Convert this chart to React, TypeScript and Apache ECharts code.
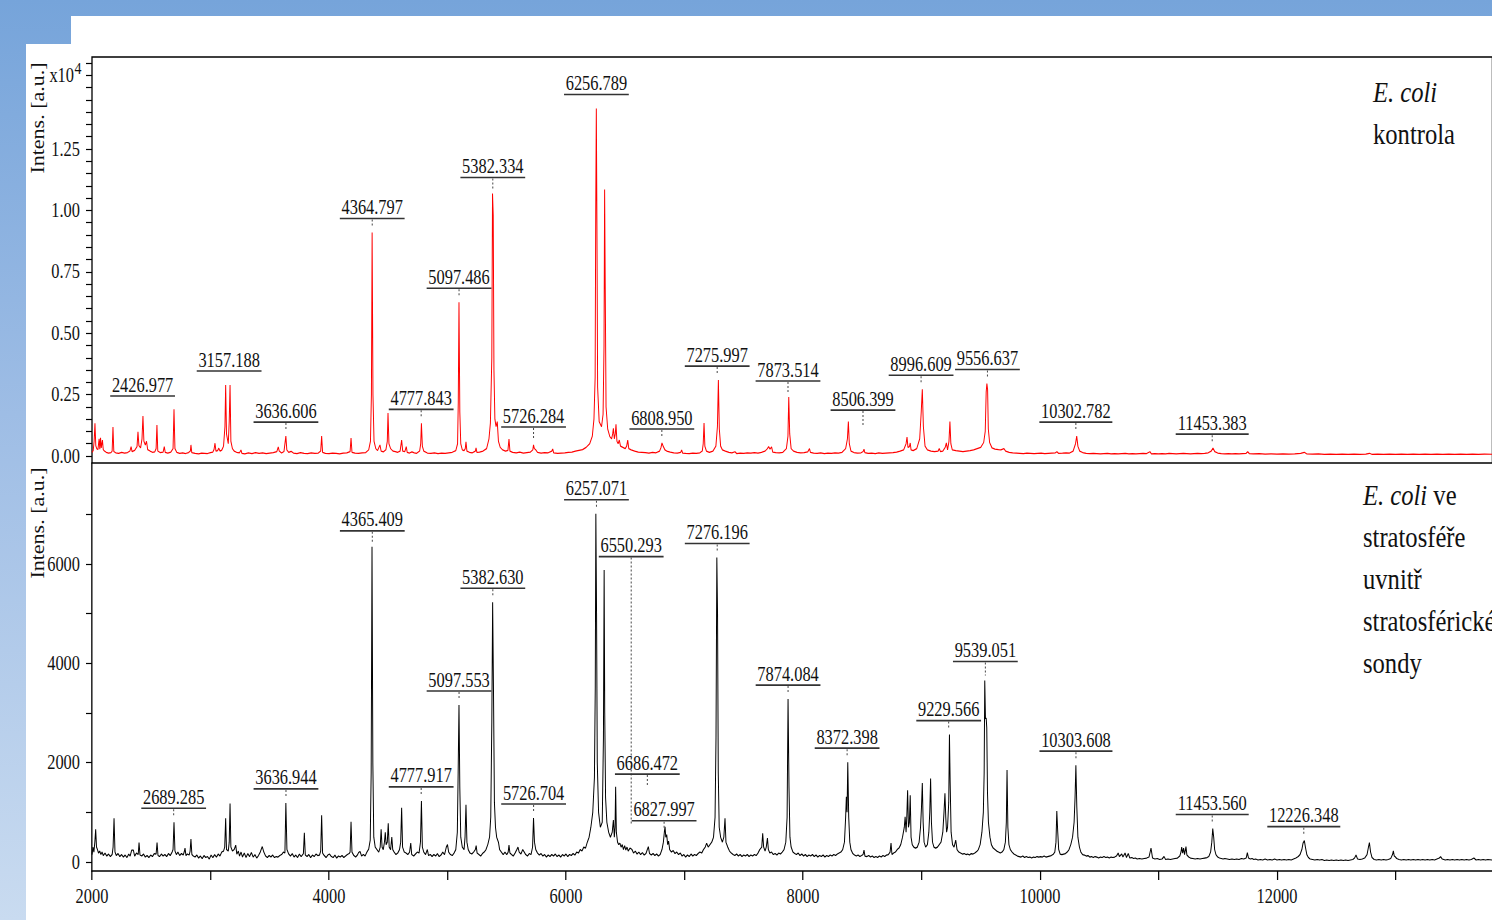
import React, { useEffect, useRef } from 'react';
import * as echarts from 'echarts';

// ---------------- DATA ----------------
const TOP_SPECTRUM: [number, number][] = [
[2000,150],[2010,220],[2018,600],[2025,1330],[2032,420],[2040,300],[2050,260],[2060,700],[2066,280],[2072,740],[2078,330],[2088,650],[2095,260],[2105,200],[2120,150],[2140,120],[2160,140],[2170,200],[2177,1180],[2184,180],[2200,130],[2225,110],[2250,150],[2275,120],[2300,140],[2320,200],[2330,380],[2338,180],[2360,230],[2380,380],[2388,990],[2396,420],[2410,330],[2422,700],[2430,1630],[2438,600],[2450,450],[2460,600],[2470,260],[2490,200],[2510,150],[2530,170],[2541,300],[2548,1260],[2555,200],[2575,140],[2600,160],[2610,380],[2618,150],[2640,120],[2665,160],[2684,300],[2692,1900],[2700,300],[2715,150],[2740,110],[2765,130],[2790,100],[2815,140],[2830,200],[2835,450],[2842,140],[2870,110],[2900,90],[2925,120],[2950,110],[2975,100],[3000,140],[3020,160],[3030,270],[3038,520],[3046,200],[3060,220],[3070,320],[3080,200],[3095,240],[3110,400],[3122,1200],[3128,2890],[3135,900],[3150,500],[3158,1400],[3165,2890],[3172,600],[3185,300],[3200,200],[3220,150],[3245,130],[3257,245],[3265,110],[3290,90],[3320,130],[3350,100],[3380,140],[3410,110],[3440,130],[3470,100],[3500,120],[3530,140],[3560,180],[3572,370],[3580,200],[3600,120],[3620,180],[3636,810],[3644,250],[3660,150],[3680,190],[3700,120],[3730,100],[3760,140],[3790,110],[3820,100],[3850,130],[3880,110],[3910,120],[3930,200],[3938,810],[3946,150],[3970,110],[4000,100],[4030,120],[4060,110],[4090,90],[4120,120],[4150,130],[4178,180],[4186,730],[4194,150],[4220,120],[4250,110],[4280,130],[4310,140],[4335,250],[4350,600],[4358,2500],[4364,9100],[4371,2500],[4380,600],[4395,300],[4410,220],[4430,450],[4440,200],[4460,170],[4480,250],[4492,600],[4498,1750],[4506,500],[4520,300],[4540,200],[4560,180],[4580,150],[4600,200],[4613,650],[4622,200],[4640,180],[4652,380],[4660,150],[4680,120],[4700,170],[4720,130],[4740,110],[4765,200],[4774,500],[4780,1330],[4788,400],[4800,200],[4830,120],[4860,110],[4890,130],[4920,100],[4950,120],[4980,110],[5010,130],[5040,150],[5070,220],[5085,500],[5091,2200],[5097,6260],[5104,1800],[5112,500],[5125,250],[5140,220],[5150,300],[5156,580],[5164,200],[5185,150],[5210,130],[5235,200],[5241,330],[5248,150],[5270,160],[5300,200],[5330,300],[5350,700],[5362,1340],[5374,4000],[5380,10690],[5386,9800],[5392,3500],[5400,1500],[5410,1200],[5420,1400],[5430,600],[5445,350],[5465,250],[5490,200],[5510,230],[5519,690],[5527,200],[5550,150],[5580,130],[5610,160],[5640,120],[5670,140],[5700,160],[5720,250],[5726,450],[5733,300],[5745,250],[5760,150],[5790,120],[5820,140],[5850,130],[5880,200],[5888,285],[5896,130],[5930,110],[5960,120],[5990,130],[6020,150],[6050,160],[6080,200],[6110,230],[6140,260],[6170,350],[6200,500],[6222,800],[6236,1500],[6246,3200],[6251,10000],[6256,14150],[6261,9500],[6267,2800],[6280,1400],[6300,1190],[6313,1700],[6321,4500],[6326,10850],[6331,7000],[6338,2000],[6352,1100],[6370,790],[6385,700],[6394,900],[6400,1130],[6408,700],[6416,900],[6422,1290],[6430,600],[6440,500],[6450,650],[6460,400],[6480,350],[6500,300],[6512,400],[6521,650],[6530,300],[6550,250],[6580,200],[6610,160],[6640,150],[6670,140],[6700,120],[6730,150],[6760,130],[6790,200],[6802,350],[6810,530],[6820,400],[6835,250],[6850,200],[6880,160],[6910,130],[6940,120],[6968,150],[6976,245],[6984,120],[7010,110],[7040,100],[7070,120],[7100,110],[7130,130],[7150,200],[7158,500],[7165,1340],[7172,400],[7185,200],[7210,150],[7240,200],[7265,400],[7278,1200],[7286,3090],[7294,1100],[7305,400],[7320,250],[7345,200],[7375,150],[7400,130],[7426,175],[7440,100],[7470,120],[7500,110],[7530,130],[7560,120],[7590,140],[7620,120],[7650,150],[7680,200],[7700,300],[7710,380],[7722,280],[7735,370],[7745,160],[7770,140],[7800,130],[7830,150],[7860,300],[7873,800],[7880,2400],[7888,900],[7900,300],[7920,200],[7950,150],[7980,130],[8010,140],[8040,170],[8055,300],[8063,150],[8090,120],[8120,110],[8150,130],[8180,100],[8210,120],[8240,110],[8270,130],[8300,120],[8330,150],[8360,300],[8375,700],[8383,1400],[8391,500],[8405,200],[8430,140],[8460,120],[8490,130],[8508,180],[8515,280],[8522,140],[8550,110],[8580,120],[8610,100],[8640,130],[8670,110],[8700,120],[8730,130],[8760,140],[8790,160],[8820,200],[8850,250],[8870,500],[8878,770],[8886,350],[8898,380],[8905,530],[8912,250],[8930,220],[8960,300],[8985,700],[8998,1800],[9007,2720],[9016,1200],[9030,400],[9050,250],[9080,200],[9110,180],[9140,200],[9150,300],[9160,180],[9180,200],[9200,350],[9210,530],[9220,250],[9232,600],[9240,1400],[9248,500],[9260,250],[9290,220],[9320,200],[9350,180],[9380,200],[9410,220],[9440,250],[9470,300],[9500,350],[9525,550],[9538,1000],[9546,2600],[9552,2950],[9558,2700],[9564,1100],[9575,550],[9595,330],[9620,280],[9650,260],[9670,250],[9696,300],[9710,200],[9740,150],[9770,130],[9800,120],[9830,110],[9860,100],[9890,120],[9920,110],[9950,100],[9980,110],[10010,120],[10040,100],[10070,110],[10100,120],[10130,130],[10143,175],[10156,110],[10190,120],[10220,130],[10250,120],[10280,200],[10300,500],[10310,810],[10320,400],[10335,200],[10360,140],[10390,110],[10420,100],[10450,110],[10480,100],[10510,90],[10540,100],[10570,110],[10600,90],[10630,100],[10660,90],[10690,100],[10720,110],[10750,90],[10780,100],[10810,90],[10840,100],[10870,110],[10900,100],[10928,175],[10940,90],[10970,100],[11000,90],[11030,100],[11060,90],[11090,110],[11120,100],[11150,90],[11180,100],[11210,110],[11240,100],[11270,90],[11300,100],[11330,110],[11360,100],[11390,110],[11420,130],[11445,200],[11460,320],[11475,180],[11500,120],[11530,100],[11560,90],[11590,100],[11620,90],[11650,100],[11680,90],[11710,100],[11740,110],[11753,175],[11766,100],[11800,90],[11850,100],[11900,80],[11950,90],[12000,80],[12050,90],[12100,80],[12150,90],[12200,110],[12230,150],[12250,90],[12300,80],[12350,90],[12400,70],[12450,80],[12500,70],[12550,80],[12600,70],[12650,80],[12700,70],[12750,80],[12780,110],[12800,70],[12850,80],[12900,70],[12950,80],[13000,70],[13050,80],[13100,70],[13150,80],[13200,70],[13250,80],[13300,70],[13350,80],[13400,70],[13450,80],[13500,70],[13550,80],[13600,70],[13650,80],[13700,70],[13750,80],[13818,70]
];

const BOTTOM_SPECTRUM: [number, number][] = [
[2000,150],[2008,300],[2016,200],[2024,400],[2031,660],[2038,300],[2046,250],[2055,180],[2065,220],[2075,150],[2085,200],[2095,130],[2110,180],[2125,120],[2140,160],[2155,110],[2170,150],[2178,300],[2186,880],[2194,200],[2205,130],[2220,170],[2235,110],[2250,150],[2265,100],[2280,140],[2295,90],[2310,160],[2322,120],[2335,240],[2349,240],[2360,120],[2375,180],[2390,150],[2397,390],[2405,140],[2420,120],[2435,160],[2450,100],[2465,130],[2480,90],[2495,140],[2510,110],[2525,170],[2541,160],[2549,390],[2557,130],[2570,110],[2585,160],[2600,120],[2615,150],[2630,110],[2645,170],[2660,130],[2676,200],[2684,250],[2692,800],[2700,220],[2712,150],[2725,200],[2740,130],[2755,170],[2770,140],[2778,200],[2785,280],[2793,130],[2805,160],[2820,140],[2828,220],[2835,460],[2843,150],[2855,120],[2870,100],[2885,140],[2900,80],[2915,120],[2930,70],[2945,130],[2960,90],[2975,110],[2990,60],[3005,140],[3020,90],[3035,150],[3050,100],[3065,160],[3080,120],[3095,200],[3110,220],[3120,300],[3128,880],[3135,250],[3150,220],[3158,400],[3165,1180],[3172,300],[3185,220],[3200,250],[3213,340],[3222,160],[3235,220],[3245,120],[3258,200],[3270,100],[3285,180],[3300,90],[3315,170],[3330,110],[3345,190],[3360,100],[3375,150],[3390,80],[3405,130],[3420,200],[3437,310],[3450,200],[3465,120],[3480,90],[3495,130],[3510,100],[3525,140],[3540,90],[3555,110],[3570,100],[3585,130],[3600,150],[3615,200],[3628,180],[3636,1190],[3645,250],[3660,160],[3675,120],[3690,170],[3705,100],[3720,140],[3735,90],[3750,160],[3765,110],[3784,170],[3792,590],[3800,140],[3815,110],[3830,150],[3845,90],[3860,140],[3875,110],[3890,160],[3905,130],[3920,140],[3930,220],[3938,940],[3946,180],[3960,130],[3975,90],[3990,140],[4005,160],[4020,110],[4035,90],[4050,140],[4065,80],[4080,120],[4095,100],[4110,130],[4125,90],[4140,120],[4155,150],[4170,170],[4178,200],[4186,810],[4194,200],[4210,130],[4225,100],[4240,140],[4250,190],[4262,210],[4275,120],[4290,150],[4305,120],[4320,200],[4335,260],[4348,440],[4356,1800],[4363,6345],[4370,2000],[4378,500],[4390,300],[4405,250],[4420,200],[4432,300],[4440,660],[4448,300],[4458,250],[4468,400],[4475,600],[4482,350],[4492,400],[4500,780],[4508,300],[4520,250],[4530,500],[4538,250],[4550,200],[4565,150],[4580,180],[4595,250],[4605,400],[4613,1090],[4621,300],[4635,200],[4650,180],[4665,150],[4680,200],[4690,380],[4698,150],[4715,120],[4730,160],[4745,200],[4760,180],[4772,400],[4780,1230],[4788,300],[4800,200],[4815,150],[4830,250],[4840,130],[4855,150],[4870,110],[4885,150],[4900,120],[4915,170],[4930,110],[4945,140],[4960,200],[4975,150],[4990,300],[5000,350],[5010,200],[5025,150],[5040,130],[5055,180],[5070,250],[5083,600],[5090,1800],[5097,3160],[5104,1500],[5112,500],[5125,300],[5140,250],[5148,500],[5156,1150],[5164,400],[5175,250],[5190,180],[5205,160],[5220,200],[5235,250],[5242,330],[5250,180],[5265,150],[5280,120],[5295,170],[5310,200],[5325,250],[5340,350],[5355,500],[5365,900],[5374,2800],[5381,5230],[5388,3500],[5396,1200],[5405,700],[5415,500],[5430,400],[5440,250],[5455,200],[5470,150],[5485,200],[5500,150],[5512,200],[5519,340],[5527,180],[5540,150],[5555,120],[5570,180],[5585,250],[5595,300],[5605,200],[5620,160],[5635,250],[5648,200],[5660,150],[5675,120],[5690,170],[5705,150],[5718,300],[5726,885],[5734,400],[5745,250],[5760,180],[5775,140],[5790,170],[5805,120],[5820,150],[5835,100],[5850,140],[5865,110],[5880,150],[5895,120],[5910,160],[5925,110],[5940,140],[5955,100],[5970,150],[5985,120],[6000,160],[6015,110],[6030,150],[6045,130],[6060,170],[6075,140],[6090,200],[6105,180],[6120,250],[6135,220],[6150,300],[6165,280],[6180,400],[6195,500],[6210,700],[6226,1000],[6240,1700],[6247,3500],[6252,7010],[6258,5000],[6264,2000],[6275,1000],[6290,700],[6306,800],[6316,2500],[6322,5880],[6327,3000],[6334,1300],[6345,800],[6360,600],[6375,500],[6390,600],[6400,845],[6408,500],[6414,700],[6419,1515],[6425,600],[6435,400],[6445,350],[6455,380],[6465,300],[6475,350],[6485,250],[6495,330],[6505,240],[6515,300],[6525,220],[6540,280],[6557,250],[6570,180],[6585,220],[6600,160],[6615,200],[6630,150],[6645,190],[6660,140],[6675,170],[6685,240],[6695,310],[6705,170],[6720,140],[6735,170],[6750,130],[6765,160],[6780,120],[6795,150],[6810,250],[6822,400],[6830,600],[6836,710],[6842,500],[6850,550],[6858,350],[6866,420],[6875,250],[6890,200],[6905,230],[6920,170],[6935,200],[6950,150],[6965,180],[6980,120],[6995,150],[7010,100],[7025,140],[7040,110],[7055,160],[7070,120],[7085,150],[7100,130],[7115,170],[7130,200],[7145,180],[7160,250],[7175,300],[7187,380],[7200,300],[7215,350],[7230,400],[7245,500],[7258,900],[7266,2500],[7273,6130],[7279,5000],[7285,1800],[7293,700],[7305,500],[7320,400],[7332,500],[7342,880],[7350,400],[7365,300],[7380,220],[7395,180],[7410,150],[7425,130],[7440,160],[7455,120],[7470,150],[7485,110],[7500,140],[7515,120],[7530,150],[7545,110],[7560,140],[7575,120],[7590,150],[7605,130],[7620,180],[7635,250],[7652,300],[7660,580],[7668,300],[7680,220],[7690,300],[7700,480],[7708,250],[7720,180],[7735,200],[7750,150],[7765,170],[7780,140],[7795,180],[7810,160],[7825,200],[7840,250],[7855,400],[7866,900],[7874,3280],[7882,1500],[7890,500],[7900,300],[7915,200],[7930,170],[7945,150],[7960,180],[7975,130],[7990,160],[8005,120],[8020,150],[8035,110],[8050,140],[8065,120],[8080,150],[8095,110],[8110,140],[8125,100],[8140,130],[8155,110],[8170,140],[8185,100],[8200,130],[8215,110],[8230,140],[8245,120],[8260,150],[8275,130],[8290,160],[8305,180],[8320,200],[8335,250],[8350,400],[8360,900],[8366,1315],[8372,1000],[8378,2010],[8386,900],[8395,400],[8405,250],[8420,170],[8435,140],[8450,120],[8465,140],[8480,110],[8495,130],[8507,150],[8515,240],[8523,120],[8540,110],[8555,130],[8570,100],[8585,120],[8600,90],[8615,110],[8630,90],[8645,120],[8660,100],[8675,130],[8690,110],[8705,140],[8720,150],[8735,200],[8743,380],[8751,150],[8765,180],[8780,200],[8795,250],[8810,280],[8825,350],[8840,500],[8855,700],[8862,910],[8870,600],[8876,900],[8883,1445],[8890,700],[8898,800],[8905,1345],[8912,500],[8922,350],[8935,300],[8950,280],[8965,300],[8980,400],[8992,700],[9000,1100],[9007,1590],[9014,800],[9022,400],[9035,300],[9050,350],[9062,600],[9070,1000],[9077,1680],[9084,800],[9093,400],[9105,300],[9120,280],[9135,300],[9150,350],[9165,400],[9180,600],[9190,1000],[9198,1385],[9205,900],[9212,600],[9220,700],[9230,1200],[9236,2565],[9242,1600],[9250,600],[9262,350],[9275,300],[9289,440],[9300,250],[9315,200],[9330,180],[9345,160],[9360,170],[9375,150],[9390,160],[9405,140],[9420,170],[9435,160],[9450,180],[9466,210],[9480,250],[9495,350],[9510,600],[9522,1000],[9529,1800],[9534,3655],[9540,2885],[9546,2900],[9551,2700],[9557,1400],[9565,800],[9578,500],[9590,350],[9605,280],[9620,250],[9635,220],[9650,200],[9665,180],[9680,200],[9695,250],[9708,400],[9716,800],[9722,1850],[9729,700],[9738,350],[9750,250],[9765,200],[9780,160],[9795,140],[9810,120],[9825,110],[9840,100],[9855,120],[9870,90],[9885,110],[9900,90],[9915,100],[9930,80],[9945,100],[9960,90],[9975,110],[9990,100],[10005,110],[10020,100],[10035,120],[10050,100],[10065,110],[10080,120],[10095,130],[10110,150],[10125,200],[10135,400],[10142,1025],[10150,600],[10158,250],[10170,160],[10185,150],[10200,160],[10215,170],[10230,200],[10245,250],[10260,350],[10275,500],[10288,800],[10296,1300],[10303,1950],[10311,1100],[10320,500],[10333,300],[10345,200],[10360,150],[10375,140],[10390,120],[10405,130],[10420,100],[10435,110],[10450,90],[10465,110],[10480,100],[10495,80],[10510,100],[10525,90],[10540,110],[10555,90],[10570,100],[10585,80],[10600,100],[10615,90],[10630,100],[10645,120],[10660,180],[10670,110],[10690,160],[10700,100],[10718,180],[10730,90],[10745,170],[10758,80],[10775,90],[10790,70],[10805,80],[10820,60],[10840,70],[10860,60],[10880,70],[10900,80],[10920,100],[10937,280],[10950,80],[10970,60],[10990,70],[11010,50],[11030,60],[11047,110],[11060,50],[11080,60],[11100,50],[11120,60],[11140,70],[11160,80],[11180,120],[11190,200],[11196,300],[11204,180],[11212,280],[11220,150],[11232,310],[11240,140],[11255,100],[11270,80],[11290,70],[11310,60],[11330,70],[11350,60],[11370,70],[11390,80],[11410,90],[11425,110],[11440,200],[11450,400],[11458,675],[11466,500],[11474,250],[11485,150],[11500,100],[11515,80],[11530,70],[11545,60],[11560,70],[11580,60],[11600,50],[11620,60],[11640,50],[11660,60],[11680,50],[11700,70],[11720,60],[11740,80],[11750,187],[11760,80],[11775,60],[11790,70],[11805,50],[11820,60],[11840,40],[11860,50],[11880,40],[11900,60],[11920,40],[11940,50],[11960,40],[11980,60],[12000,40],[12020,50],[12040,40],[12060,50],[12080,40],[12100,50],[12120,40],[12140,60],[12160,80],[12180,110],[12195,150],[12210,250],[12220,380],[12231,430],[12240,300],[12252,150],[12265,90],[12280,60],[12300,50],[12320,40],[12340,50],[12360,40],[12380,50],[12400,30],[12420,40],[12440,30],[12460,40],[12480,30],[12500,40],[12520,30],[12540,40],[12560,30],[12580,40],[12600,30],[12620,40],[12640,50],[12655,80],[12667,140],[12680,60],[12700,50],[12720,60],[12740,80],[12760,150],[12772,300],[12780,390],[12790,200],[12802,90],[12820,50],[12840,40],[12860,50],[12880,40],[12900,50],[12920,40],[12940,50],[12960,70],[12975,150],[12982,225],[12990,120],[13000,100],[13010,70],[13030,50],[13050,40],[13070,50],[13090,40],[13110,50],[13130,40],[13150,50],[13170,40],[13190,50],[13210,40],[13230,50],[13250,40],[13270,50],[13290,40],[13310,50],[13330,40],[13350,60],[13370,80],[13381,107],[13395,60],[13420,40],[13440,50],[13460,40],[13480,50],[13500,40],[13520,50],[13540,40],[13560,50],[13580,40],[13600,50],[13620,40],[13640,50],[13662,80],[13680,40],[13700,50],[13720,40],[13740,50],[13760,40],[13780,50],[13818,40]
];

// labelled peaks: [m/z, apex intensity]
const TOP_PEAKS: [number, number][] = [
  [2426.977, 1630], [3157.188, 2890], [3636.606, 810], [4364.797, 9100], [4777.843, 1330],
  [5097.486, 6260], [5382.334, 10690], [5726.284, 450], [6256.789, 14150], [6808.950, 530],
  [7275.997, 3090], [7873.514, 2400], [8506.399, 280], [8996.609, 2720], [9556.637, 2950],
  [10302.782, 810], [11453.383, 320],
];
const BOTTOM_PEAKS: [number, number][] = [
  [2689.285, 800], [3636.944, 1190], [4365.409, 6345], [4777.917, 1230], [5097.553, 3160],
  [5382.630, 5230], [5726.704, 885], [6257.071, 7010], [6550.293, 250], [6686.472, 240],
  [6827.997, 710], [7276.196, 6130], [7874.084, 3280], [8372.398, 2010], [9229.566, 2565],
  [9539.051, 3655], [10303.608, 1950], [11453.560, 675], [12226.348, 430],
];

const X_TICKS = [2000, 3000, 4000, 5000, 6000, 7000, 8000, 9000, 10000, 11000, 12000, 13000];
const X_LABELS = [2000, 4000, 6000, 8000, 10000, 12000];
const TOP_Y_TICKS = [0, 500, 1000, 1500, 2000, 2500, 3000, 3500, 4000, 4500, 5000, 5500, 6000, 6500, 7000, 7500, 8000, 8500, 9000, 9500, 10000, 10500, 11000, 11500, 12000, 12500, 13000, 13500, 14000, 14500, 15000, 15500, 16000];
const TOP_Y_LABELS = [0, 2500, 5000, 7500, 10000, 12500];
const BOTTOM_Y_TICKS = [0, 1000, 2000, 3000, 4000, 5000, 6000, 7000];
const BOTTOM_Y_LABELS = [0, 2000, 4000, 6000];

const TOP_TITLE = ['E. coli', 'kontrola'];
const BOTTOM_TITLE = ['E. coli', ' ve', 'stratosféře', 'uvnitř', 'stratosférické', 'sondy'];
const Y_NAME = 'Intens. [a.u.]';

// ---------------- LAYOUT / STYLE ----------------
const S = 0.82; // horizontal condensation of the whole picture
const W = 1820;
const H = 920;
const sx = (x: number) => x / S;
const FONT = '"Liberation Serif", "Times New Roman", serif';
const X_MAX = 13818;

// label placement (px above apex) and dotted-line lengths
const TOP_GAPS: Record<string, number> = { '2426.977': 20, '5382.334': 16, '5726.284': 18, '7873.514': 16, '8506.399': 39 };
const TOP_DOTS: Record<string, number> = { '8506.399': 16, '2426.977': 0, '3157.188': 0, '6256.789': 0 };
const BOTTOM_GAPS: Record<string, number> = { '4365.409': 16, '6550.293': 293, '6686.472': 76, '6827.997': 6, '9539.051': 19 };
const BOTTOM_DOTS: Record<string, number> = { '6550.293': 266, '6686.472': 11, '6827.997': 6 };

function makeRenderer(gaps: Record<string, number>, dots: Record<string, number>) {
  return (params: any, api: any) => {
    const mz = api.value(0);
    const h = api.value(1);
    const pt = api.coord([mz, h]);
    const key = Number(mz).toFixed(3);
    const gap = gaps[key] ?? 14;
    const dot = dots[key] ?? Math.max(gap - 6, 0);
    const yLine = pt[1] - gap;
    const digits = key.replace('.', '').length;
    const w = (digits * 0.5 + 0.25) * 20;
    const children: any[] = [
      {
        type: 'text', x: pt[0], y: yLine - 1,
        style: { text: key, font: `20px ${FONT}`, fill: '#111', align: 'center', verticalAlign: 'bottom', textAlign: 'center', textVerticalAlign: 'bottom' },
      },
      {
        type: 'line', shape: { x1: pt[0] - w / 2 - 2, y1: yLine, x2: pt[0] + w / 2 + 2, y2: yLine },
        style: { stroke: '#333', lineWidth: 1.6 },
      },
    ];
    if (dot > 0) {
      children.push({
        type: 'line', shape: { x1: pt[0], y1: yLine + 1, x2: pt[0], y2: yLine + 1 + dot },
        style: { stroke: '#444', lineWidth: 1.2, lineDash: [2, 2] },
      });
    }
    return { type: 'group', children };
  };
}

export default function App() {
  const ref = useRef<HTMLDivElement>(null);
  useEffect(() => {
    if (!ref.current) return;
    const chart = echarts.init(ref.current, undefined, { renderer: 'svg' });
    const labelStyle = { fontFamily: FONT, fontSize: 20, color: '#111' };
    const titleFont = `30px ${FONT}`;
    const titleItalic = `italic 30px ${FONT}`;
    const option: any = {
      animation: false,
      backgroundColor: 'transparent',
      graphic: [
        {
          type: 'rect', z: -100, silent: true,
          shape: { x: 0, y: 0, width: W + 20, height: H },
          style: {
            fill: new echarts.graphic.LinearGradient(0, 0, 0, 1, [
              { offset: 0, color: '#76A4DA' },
              { offset: 0.45, color: '#9EBDE5' },
              { offset: 1, color: '#C9DBF0' },
            ]),
          },
        },
        {
          type: 'polygon', z: -99, silent: true,
          shape: { points: [[sx(71), 16], [W + 20, 16], [W + 20, H + 10], [sx(26), H + 10], [sx(26), 44], [sx(71), 44]] },
          style: { fill: '#ffffff' },
        },
        {
          type: 'text', x: sx(74), y: 75, silent: true,
          style: { text: 'x10', font: `20px ${FONT}`, fill: '#111', align: 'right', verticalAlign: 'middle', textAlign: 'right', textVerticalAlign: 'middle' },
        },
        {
          type: 'text', x: sx(74.5), y: 68, silent: true,
          style: { text: '4', font: `17px ${FONT}`, fill: '#111', align: 'left', verticalAlign: 'middle', textAlign: 'left', textVerticalAlign: 'middle' },
        },
        {
          type: 'text', x: sx(38), y: 118, rotation: Math.PI / 2, silent: true,
          style: { text: Y_NAME, font: `22px ${FONT}`, fill: '#111', align: 'center', verticalAlign: 'middle', textAlign: 'center', textVerticalAlign: 'middle' },
        },
        {
          type: 'text', x: sx(38), y: 523, rotation: Math.PI / 2, silent: true,
          style: { text: Y_NAME, font: `22px ${FONT}`, fill: '#111', align: 'center', verticalAlign: 'middle', textAlign: 'center', textVerticalAlign: 'middle' },
        },
        {
          type: 'text', x: sx(1373), y: 92, silent: true,
          style: { text: TOP_TITLE[0], font: titleItalic, fill: '#111', align: 'left', verticalAlign: 'middle', textAlign: 'left', textVerticalAlign: 'middle' },
        },
        {
          type: 'text', x: sx(1373), y: 134, silent: true,
          style: { text: TOP_TITLE[1], font: titleFont, fill: '#111', align: 'left', verticalAlign: 'middle', textAlign: 'left', textVerticalAlign: 'middle' },
        },
        {
          type: 'text', x: sx(1363), y: 495, silent: true,
          style: {
            text: `{i|${BOTTOM_TITLE[0]}}${BOTTOM_TITLE[1]}`, font: titleFont, fill: '#111',
            align: 'left', verticalAlign: 'middle', textAlign: 'left', textVerticalAlign: 'middle',
            rich: { i: { fontStyle: 'italic', fontSize: 30, fontFamily: FONT, fill: '#111', color: '#111' } },
          },
        },
        ...BOTTOM_TITLE.slice(2).map((t, i) => ({
          type: 'text', x: sx(1363), y: 537 + i * 42, silent: true,
          style: { text: t, font: titleFont, fill: '#111', align: 'left', verticalAlign: 'middle', textAlign: 'left', textVerticalAlign: 'middle' },
        })),
      ],
      grid: [
        { left: sx(92), right: 0, top: 57, height: 406, show: true, borderColor: '#000', borderWidth: 1.6, backgroundColor: 'transparent' },
        { left: sx(92), right: 0, top: 463, height: 408, show: false },
      ],
      xAxis: [
        {
          gridIndex: 0, type: 'value', min: 2000, max: X_MAX,
          axisLine: { show: false, onZero: false }, axisTick: { show: false }, axisLabel: { show: false }, splitLine: { show: false },
        },
        {
          gridIndex: 1, type: 'value', min: 2000, max: X_MAX,
          axisLine: { show: true, onZero: false, lineStyle: { color: '#000', width: 1.6 } },
          axisTick: { show: true, length: 9, customValues: X_TICKS, lineStyle: { color: '#000', width: 1.5 } },
          axisLabel: { ...labelStyle, margin: 15, customValues: X_LABELS, formatter: (v: number) => String(v) },
          splitLine: { show: false },
        },
      ],
      yAxis: [
        {
          gridIndex: 0, type: 'value', min: -285, max: 16246,
          axisLine: { show: false, onZero: false },
          axisTick: { show: true, length: sx(6), customValues: TOP_Y_TICKS, lineStyle: { color: '#000', width: 1.2 } },
          axisLabel: { ...labelStyle, margin: sx(12), customValues: TOP_Y_LABELS, formatter: (v: number) => (v / 10000).toFixed(2) },
          splitLine: { show: false },
        },
        {
          gridIndex: 1, type: 'value', min: -181, max: 8033,
          axisLine: { show: true, onZero: false, lineStyle: { color: '#000', width: 1.6 } },
          axisTick: { show: true, length: sx(6), customValues: BOTTOM_Y_TICKS, lineStyle: { color: '#000', width: 1.2 } },
          axisLabel: { ...labelStyle, margin: sx(12), customValues: BOTTOM_Y_LABELS, formatter: (v: number) => String(v) },
          splitLine: { show: false },
        },
      ],
      series: [
        {
          type: 'line', xAxisIndex: 0, yAxisIndex: 0, data: TOP_SPECTRUM, symbol: 'none', showSymbol: false,
          lineStyle: { color: '#ff0000', width: 1.2 }, itemStyle: { color: '#ff0000' }, silent: true, z: 3,
        },
        {
          type: 'line', xAxisIndex: 1, yAxisIndex: 1, data: BOTTOM_SPECTRUM, symbol: 'none', showSymbol: false,
          lineStyle: { color: '#000000', width: 1.2 }, itemStyle: { color: '#000' }, silent: true, z: 3,
        },
        {
          type: 'custom', xAxisIndex: 0, yAxisIndex: 0, data: TOP_PEAKS, silent: true, z: 5,
          encode: { x: 0, y: 1 }, renderItem: makeRenderer(TOP_GAPS, TOP_DOTS),
        },
        {
          type: 'custom', xAxisIndex: 1, yAxisIndex: 1, data: BOTTOM_PEAKS, silent: true, z: 5,
          encode: { x: 0, y: 1 }, renderItem: makeRenderer(BOTTOM_GAPS, BOTTOM_DOTS),
        },
      ],
    };
    chart.setOption(option);
    return () => chart.dispose();
  }, []);

  return (
    <div style={{ position: 'fixed', left: 0, top: 0, width: 1492, height: H, overflow: 'hidden', background: '#fff' }}>
      <div ref={ref} style={{ width: W, height: H, transform: `scaleX(${S})`, transformOrigin: '0 0' }} />
    </div>
  );
}
